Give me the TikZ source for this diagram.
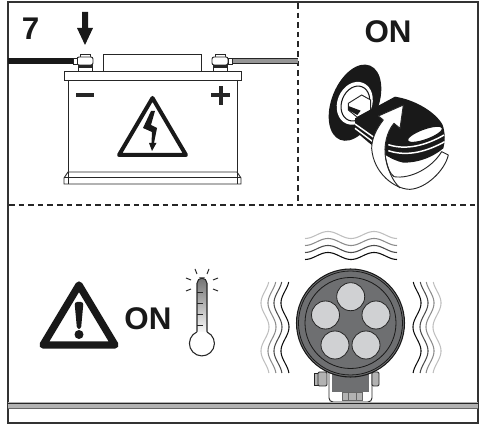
\documentclass[tikz,border=0pt]{standalone}
\usepackage{fontspec}
\setmainfont{Liberation Sans}
\usetikzlibrary{arrows.meta, positioning, calc}
\definecolor{lampbody}{RGB}{110, 111, 113}
\definecolor{lamplens}{RGB}{208, 209, 211}
\definecolor{cablegray}{RGB}{150, 150, 150}
\begin{document}
\begin{tikzpicture}[
          x=0.75pt, y=-0.75pt,
          frameline/.style={line width=1.2pt, draw=black!80},
          sepline/.style={line width=1.1pt, black!85, dash pattern=on 4.2pt off 3pt},
          thinline/.style={line width=0.7pt, draw=black!85},
          caption/.style={font=\fontsize{23.5}{23.5}\selectfont\bfseries, text=black!90, inner sep=0pt},
          lens/.style={circle, fill=lamplens, draw=black!85, line width=0.6pt, minimum size=21pt, inner sep=0pt},
          wave/.style={line width=0.8pt}
        ]
          \useasboundingbox (0,0) rectangle (483,424);

          % Frame
          \draw[frameline] (8,2) rectangle (478,423);
          \draw[sepline] (298,3) -- (298,205);
          \draw[sepline] (9,205) -- (477,205);

          % Step number and arrow
          \node[caption] (number) at (30.5,29) {7};
          \fill[black!90] (82,12) -- (88,12) -- (88,28) -- (93,28) -- (85,45) -- (77,28) -- (82,28) -- cycle;

          % Cables
          \draw[line width=4.5pt, black!90] (8,61) -- (73,61);
          \draw[line width=4pt, black!85] (232,61) -- (298,61);
          \draw[line width=2.4pt, cablegray] (232,61) -- (298,61);

          % Battery
          \draw[thinline, fill=white] (103,54) rectangle (201,71);
          \draw[thinline, fill=white] (64,71) rectangle (241,80);
          \draw[thinline] (68,80) -- (68,173) (237,80) -- (237,173);
          \draw[thinline, fill=white] (64,184) -- (64,178) -- (68,172) -- (237,172) -- (241,178) -- (241,184) -- cycle;
          \draw[thinline] (64,177) -- (241,177) (68,172) -- (68,184) (237,172) -- (237,184);
          \foreach \tx/\side in {85/-1, 220/1} {
            \draw[thinline, fill=white] (\tx-7,65) rectangle (\tx+7,71);
            \draw[line width=1.4pt, black!85] (\tx-7,67) -- (\tx+7,67);
            \draw[thinline, fill=white] (\tx-5,54) rectangle (\tx+5,58);
            \draw[thinline, fill=white, rounded corners=1.5pt] (\tx-8,57) rectangle (\tx+8,65);
            \draw[thinline, fill=white] (\tx+\side*8,58) rectangle (\tx+\side*12,64);
          }
          \fill[black!85] (76,93.5) rectangle (94,97);
          \fill[black!85] (211,93.5) rectangle (229.5,97.5);
          \fill[black!85] (218.5,86) rectangle (222.5,105);

          % Warning sign on battery
          \draw[line width=3pt, line join=round, black!90] (152.5,98) -- (186,155) -- (119,155) -- cycle;
          \fill[black!90] (151,111) -- (155,111) -- (151,125) -- (157,128) -- (154,143) -- (156.5,143) -- (152,151) -- (149,143) -- (151.5,143) -- (152,132) -- (143,128) -- cycle;

          % Key and lock
          \begin{scope}[shift={(320,60)}, x=0.25pt, y=-0.25pt]
            \fill[black!90, rotate around={-22:(105,128)}] (105,128) ellipse (70 and 120);
            \fill[white, rotate around={-22:(105,128)}] (105,130) ellipse (52 and 66);
            \draw[black!90, line width=0.8pt, fill=white, rotate around={-22:(105,128)}] (107,130) ellipse (41 and 54);
            \draw[thinline, fill=white] (85,130) -- (125,105) -- (152,120) -- (152,150) -- (112,172) -- (85,150) -- cycle;
            \fill[black!90] (85,138) -- (122,152) -- (112,165) -- (85,150) -- cycle;
            % key body
            \fill[black!90] (105,175) -- (225,110) .. controls (290,120) and (350,160) .. (368,195) .. controls (376,220) and (376,245) .. (370,265) .. controls (340,290) and (300,308) .. (250,308) .. controls (210,300) and (170,270) .. (105,212) -- cycle;
            \draw[white, line width=1.1pt] (105,192) -- (170,238) (205,254) .. controls (260,272) and (320,255) .. (372,225);
            \draw[white, line width=1.1pt] (105,205) -- (165,250) (205,272) .. controls (265,292) and (325,272) .. (374,245);
            \draw[black!90, fill=white, line width=0.9pt, rotate around={20:(315,223)}] (315,223) ellipse (56 and 16);
            % turning arrow
            \draw[thinline, fill=white, line join=round] (385,285) .. controls (375,330) and (320,385) .. (270,388) .. controls (225,388) and (160,340) .. (155,265) .. controls (155,235) and (170,205) .. (190,180) -- (175,168) -- (250,135) -- (240,205) -- (222,190) .. controls (200,215) and (190,260) .. (197,295) .. controls (202,325) and (210,340) .. (222,350) .. controls (270,358) and (335,325) .. (365,275) -- cycle;
            \draw[thinline] (197,295) .. controls (205,330) and (215,360) .. (240,384);
          \end{scope}
          \node[caption] (keyon) at (388,32) {ON};

          % Warning sign and thermometer
          \draw[line width=5.5pt, line join=round, black!90, fill=white] (79,285) -- (115,345) -- (43,345) -- cycle;
          \fill[black!90, rounded corners=2pt] (74.5,302) -- (83.5,302) -- (81,329) -- (77,329) -- cycle;
          \fill[black!90] (79,334.5) circle (4.5);
          \node[caption] (warnon) at (148,319) {ON};
          \shade[top color=black!55, middle color=black!12, bottom color=white, rounded corners=4pt] (197,334) -- (197,278) -- (207,278) -- (207,334) -- cycle;
          \draw[line width=0.8pt, black!85, rounded corners=4pt] (197,334) -- (197,278) -- (207,278) -- (207,334);
          \draw[line width=0.8pt, black!85, fill=white] (207,332) arc (-66:246:12.5);
          \foreach \ty in {292,303,314,325} {
            \draw[line width=0.7pt, black!85] (197,\ty) -- (203,\ty);
          }
          \draw[line width=0.7pt, black!85] (195,269) -- (197,274) (209,269) -- (207,274) (186,278) -- (191,280) (218,278) -- (213,280) (186,291) -- (191,289) (218,291) -- (213,289);

          % Lamp
          \foreach \wavey/\wavecolor in {235/black!25, 242/black!45, 249/black!70, 256/black!95} {
            \draw[wave, \wavecolor] plot[domain=305:397, samples=60, smooth] (\x, {\wavey-3.5*cos((\x-328)/46*360)});
          }
          \foreach \wavex/\wavecolor in {265/black!25, 272/black!45, 278/black!70, 285/black!95} {
            \draw[wave, \wavecolor] plot[domain=282:373, samples=60, smooth] ({\wavex+4*cos((\x-327)/48*360)}, \x);
          }
          \foreach \wavex/\wavecolor in {417/black!95, 424/black!70, 430/black!45, 437/black!25} {
            \draw[wave, \wavecolor] plot[domain=282:373, samples=60, smooth] ({\wavex-4*cos((\x-327)/48*360)}, \x);
          }
          \draw[thinline, fill=white, rounded corners=3pt] (329,370) -- (329,402) -- (372,402) -- (372,370);
          \fill[lampbody] (332,370) rectangle (369,392);
          \draw[line width=0.5pt, black!60, fill=black!30] (342,392) rectangle (362,400);
          \draw[line width=0.5pt, black!60] (348,392) -- (348,400) (356,392) -- (356,400);
          \draw[thinline, fill=black!30] (314,373) rectangle (318,385);
          \draw[thinline, fill=black!30, rounded corners=1pt] (318,372) rectangle (327,386);
          \draw[thinline, fill=black!30, rounded corners=1pt] (372,372) rectangle (379,386);
          \draw[line width=0.8pt, black!90, fill=lampbody] (350.5,323) circle (54);
          \draw[line width=0.6pt, black!90] (350.5,323) circle (45.5);
          \draw[line width=0.6pt, black!90] (350.5,323) circle (52);
          \node[lens] (lenstop) at (350.7,296.7) {};
          \node[lens] (lensleft) at (325.5,315) {};
          \node[lens] (lensright) at (376,315) {};
          \node[lens] (lensleftlow) at (335,345) {};
          \node[lens] (lensrightlow) at (366,345) {};

          % Rail
          \fill[black!30] (8,402) rectangle (478,408);
          \draw[line width=0.6pt, black!85] (8,403) -- (478,403);
          \draw[line width=0.5pt, black!60] (8,408.5) -- (478,408.5);
        \end{tikzpicture}
\end{document}
